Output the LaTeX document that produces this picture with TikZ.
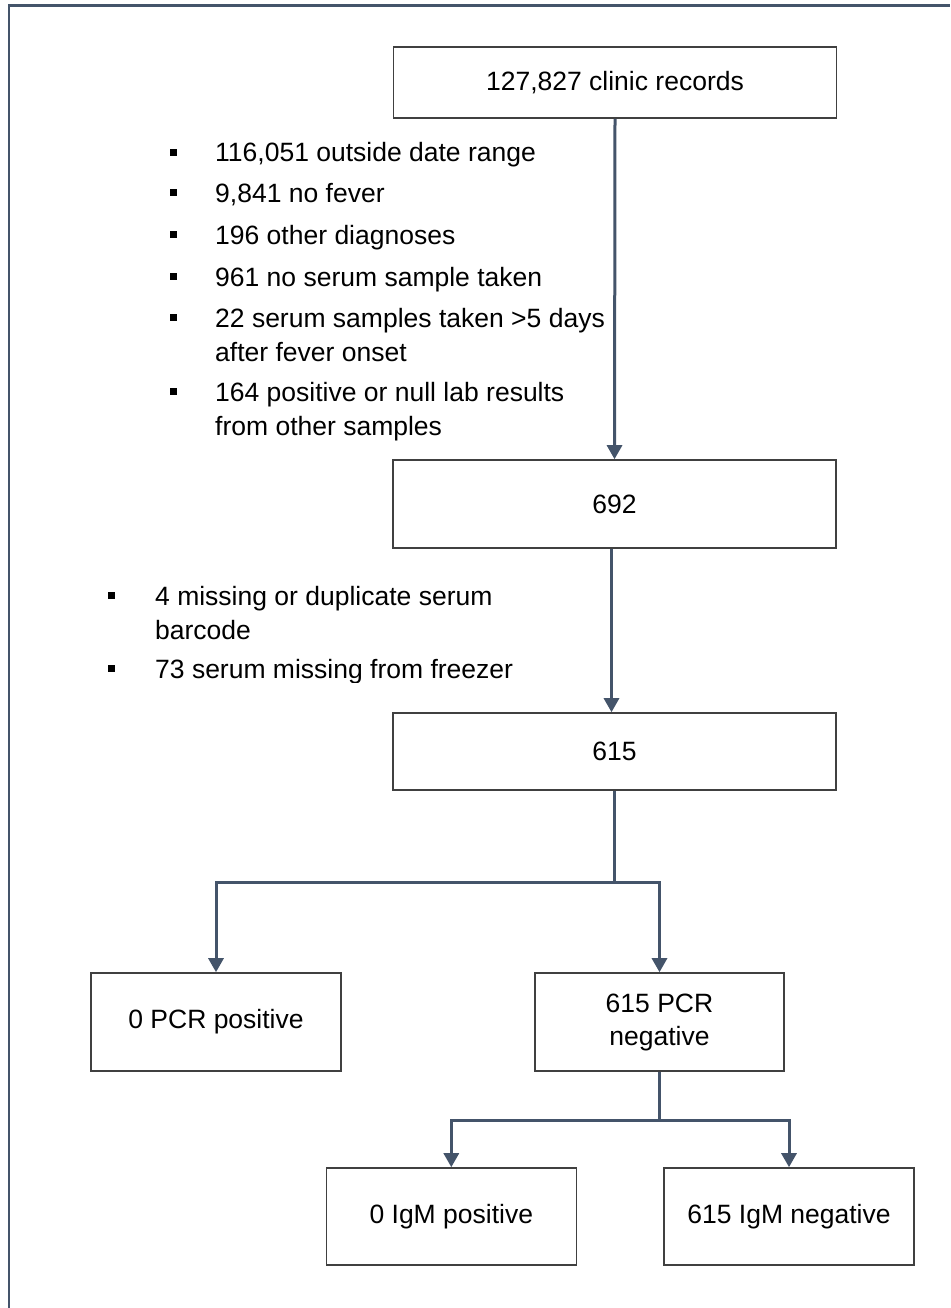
\documentclass[tikz,border=0pt]{standalone}
\usepackage{fontspec}
\setmainfont{Liberation Sans}
\usetikzlibrary{arrows.meta}
\definecolor{slate}{HTML}{44546A}
\definecolor{boxline}{HTML}{404040}
\begin{document}
\begin{tikzpicture}[x=1pt,y=-1pt,
  every node/.style={font=\fontsize{26.5}{33}\selectfont, inner sep=0pt},
  box/.style={draw=boxline, line width=1.6pt, minimum width=443pt, align=center},
  pbox/.style={box, minimum width=250pt},
  conn/.style={draw=slate, line width=3pt},
  arr/.style={conn, -{Triangle[width=15pt,length=14pt]}},
  bul/.style={fill=black, minimum width=7pt, minimum height=7.5pt, inner sep=0pt},
  txt/.style={anchor=base west},
  frame/.style={draw=slate, line width=2.5pt}]
\useasboundingbox (0,0) rectangle (950,1308);
\fill[white] (0,0) rectangle (950,1308);
\draw[frame] (9,1308) -- (9,5.5) -- (950,5.5);

% main boxes
\node[box, minimum height=71pt] (b1) at (615,82.5) {127,827 clinic records};
\node[box, minimum height=88pt] (b2) at (614.5,504) {692};
\node[box, minimum height=77pt] (b3) at (614.5,751.5) {615};
\node[pbox, minimum height=98pt] (pp) at (216,1022) {0 PCR positive};
\node[pbox, minimum height=98pt, minimum width=249pt] (pn) at (659.5,1022) {615 PCR\\negative};
\node[pbox, minimum height=97pt] (ip) at (451.3,1216.5) {0 IgM positive};
\node[pbox, minimum height=97pt] (in) at (789,1216.5) {615 IgM negative};

% exclusion list 1
\foreach \n/\y/\t in {t1/162/{116,051 outside date range},
                      t2/202/{9,841 no fever},
                      t3/244/{196 other diagnoses},
                      t4/286/{961 no serum sample taken},
                      t5/327/{22 serum samples taken >5 days},
                      t6/401/{164 positive or null lab results}}
  {\node[txt] (\n) at (215,\y) {\t};
   \node[bul] (\n b) at (173,\y-9.5) {};}
\node[txt] (t5x) at (215,361) {after fever onset};
\node[txt] (t6x) at (215,435) {from other samples};

% exclusion list 2
\node[txt] (u1) at (155,605) {4 missing or duplicate serum};
\node[bul] (u1b) at (111,595.5) {};
\node[txt] (u1x) at (155,639) {barcode};
\begin{scope}
  \clip (100,640) rectangle (580,682.5);
  \node[txt] (u2) at (155,678) {73 serum missing from freezer};
\end{scope}
\node[bul] (u2b) at (111,668.5) {};

% connectors
\draw[arr] (b1.south) -- (b2.north);
\draw[arr] ([xshift=-3pt]b2.south) -- ([xshift=-3pt]b3.north);
\coordinate (j1) at (614.5,882);
\draw[conn] (b3.south) -- (j1);
\draw[arr] (j1) -| (pp.north);
\draw[arr] (j1) -| (pn.north);
\coordinate (j2) at (659.5,1120);
\draw[conn] (pn.south) -- (j2);
\draw[arr] (j2) -| (ip.north);
\draw[arr] (j2) -| (in.north);
\end{tikzpicture}
\end{document}
